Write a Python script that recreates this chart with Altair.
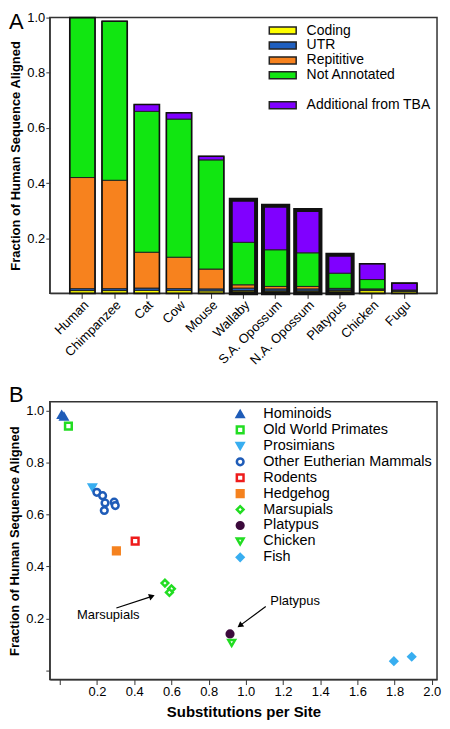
import altair as alt
import pandas as pd

FONT = "Liberation Sans"

# ---------------- Panel A data ----------------
species = ["Human", "Chimpanzee", "Cat", "Cow", "Mouse", "Wallaby",
           "S.A. Opossum", "N.A. Opossum", "Platypus", "Chicken", "Fugu"]
coding = [0.010, 0.010, 0.011, 0.010, 0.009, 0.010, 0.009, 0.009, 0.010, 0.010, 0.007]
utr = [0.007, 0.007, 0.008, 0.007, 0.007, 0.009, 0.007, 0.007, 0.006, 0.005, 0.004]
repetitive = [0.403, 0.393, 0.130, 0.114, 0.072, 0.012, 0.009, 0.009, 0.002, 0.001, 0.001]
not_annotated = [0.580, 0.577, 0.511, 0.501, 0.396, 0.154, 0.133, 0.122, 0.055, 0.034, 0.0]
additional_tba = [0.0, 0.0, 0.025, 0.023, 0.013, 0.154, 0.160, 0.155, 0.067, 0.057, 0.025]
thick_outline = ["Wallaby", "S.A. Opossum", "N.A. Opossum", "Platypus"]

seg_names = ["Coding", "UTR", "Repititive", "Not Annotated", "Additional from TBA"]
seg_values = [coding, utr, repetitive, not_annotated, additional_tba]

rows, tot_rows = [], []
for i, sp in enumerate(species):
    base = 0.0
    for name, vals in zip(seg_names, seg_values):
        v = vals[i]
        if v > 0:
            rows.append({"species": sp, "segment": name, "y0": base, "y1": base + v})
        base += v
    tot_rows.append({"species": sp, "total": base})
df_seg = pd.DataFrame(rows)
df_tot = pd.DataFrame(tot_rows)

# ---------------- Panel B data ----------------
groups = ["Hominoids", "Old World Primates", "Prosimians", "Other Eutherian Mammals",
          "Rodents", "Hedgehog", "Marsupials", "Platypus", "Chicken", "Fish"]
pt_group = ["Hominoids", "Hominoids", "Old World Primates", "Prosimians",
            "Other Eutherian Mammals", "Other Eutherian Mammals", "Other Eutherian Mammals",
            "Other Eutherian Mammals", "Other Eutherian Mammals", "Other Eutherian Mammals",
            "Rodents", "Hedgehog", "Marsupials", "Marsupials", "Marsupials",
            "Platypus", "Chicken", "Fish", "Fish"]
pt_x = [0.010, 0.022, 0.046, 0.175, 0.199, 0.230, 0.243, 0.239, 0.292, 0.298,
        0.405, 0.304, 0.565, 0.600, 0.589, 0.915, 0.924, 1.796, 1.892]
pt_y = [0.985, 0.978, 0.941, 0.705, 0.686, 0.673, 0.645, 0.616, 0.648, 0.635,
        0.498, 0.460, 0.336, 0.314, 0.300, 0.140, 0.105, 0.035, 0.052]

ann_text = ["Marsupials", "Platypus"]
ann_x = [0.26, 1.265]
ann_y = [0.214, 0.265]
arrow_x = [0.304, 1.107]
arrow_y = [0.240, 0.246]
head_x = [0.495, 0.968]
head_y = [0.285, 0.172]
head_angle = [341, 143]

df_pts = pd.DataFrame({"group": pt_group, "x": pt_x, "y": pt_y})
df_ann = pd.DataFrame({"text": ann_text, "x": ann_x, "y": ann_y})
df_arr = pd.DataFrame({"x": arrow_x, "y": arrow_y, "hx": head_x, "hy": head_y, "ang": head_angle})

W = 389

# ---------------- Panel A ----------------
color_domain = ["Coding", "UTR", "Repititive", "Not Annotated", " ", "Additional from TBA"]
fill_range = ["#ffff00", "#1f5fbf", "#f7821e", "#11e611", "transparent", "#8000ff"]
stroke_range = ["#222222", "#222222", "#222222", "#222222", "transparent", "#222222"]

legend_a = alt.Legend(title=None, orient="top-right", offset=6,
                      symbolType="M-3.86,-1H3.86V1H-3.86Z", symbolSize=49,
                      symbolStrokeWidth=1.5, symbolOpacity=1,
                      labelFont=FONT, labelFontSize=14, labelColor="black",
                      rowPadding=1, labelOffset=17, labelLimit=300)

xa_axis = alt.Axis(title=None, labelAngle=-45, labelAlign="right", labelBaseline="top",
                   labelFont=FONT, labelFontSize=13, labelColor="black",
                   tickSize=5, tickColor="#333", domainColor="#333", labelPadding=0)
ya_axis = alt.Axis(title="Fraction of Human Sequence Aligned", values=[0.2, 0.4, 0.6, 0.8, 1.0],
                   format=".1f", labelFont=FONT, labelFontSize=13, labelColor="black",
                   tickSize=4, tickColor="#333", domainColor="#333", labelPadding=1,
                   titleFont=FONT, titleFontSize=13, titleFontWeight="bold", titleColor="black",
                   titlePadding=4)
xa_scale = alt.Scale(paddingInner=0.215, paddingOuter=0.62)
ya_scale = alt.Scale(domain=[0, 1], nice=False)

bars = alt.Chart(df_seg).mark_bar(strokeWidth=1).encode(
    x=alt.X("species:N", sort=species, scale=xa_scale, axis=xa_axis),
    y=alt.Y("y0:Q", scale=ya_scale, axis=ya_axis),
    y2="y1:Q",
    color=alt.Color("segment:N", scale=alt.Scale(domain=color_domain, range=fill_range), legend=legend_a),
    stroke=alt.Stroke("segment:N", scale=alt.Scale(domain=color_domain, range=stroke_range), legend=legend_a),
)

outline = alt.Chart(df_tot).mark_bar(fillOpacity=0, stroke="#111111").encode(
    x=alt.X("species:N", sort=species, scale=xa_scale, axis=xa_axis),
    y=alt.Y("total:Q", scale=ya_scale, axis=ya_axis),
    strokeWidth=alt.condition(alt.FieldOneOfPredicate(field="species", oneOf=thick_outline),
                              alt.value(4), alt.value(1.6)),
)

letter_a = alt.Chart(pd.DataFrame({"t": ["A"]})).mark_text(
    font=FONT, fontSize=22, align="left", baseline="top", color="black"
).encode(text="t:N", x=alt.value(-41), y=alt.value(-6))

panel_a = alt.layer(bars, outline, letter_a).properties(width=W, height=277)

# ---------------- Panel B ----------------
shape_range = ["triangle-up", "square", "triangle-down", "circle", "square", "square",
               "diamond", "circle", "triangle-down", "diamond"]
stroke_b = ["#1f5cb8", "#22dd22", "#38aef0", "#1f5cb8", "#ee1c1c", "#f5821f",
            "#22dd22", "#3c0a3c", "#22dd22", "#38aef0"]
fill_b = ["#1f5cb8", "white", "#38aef0", "white", "white", "#f5821f",
          "white", "#3c0a3c", "white", "#38aef0"]

legend_b = alt.Legend(title=None, orient="top-right", offset=5,
                      labelFont=FONT, labelFontSize=14.5, labelColor="black",
                      symbolSize=45, symbolStrokeWidth=2.5, symbolOpacity=1,
                      rowPadding=-4, labelOffset=16, labelLimit=300)

xb_axis = alt.Axis(title="Substitutions per Site",
                   values=[0, 0.2, 0.4, 0.6, 0.8, 1.0, 1.2, 1.4, 1.6, 1.8, 2.0],
                   labelExpr="datum.value == 0 ? '' : format(datum.value, '.1f')",
                   labelOverlap=False, labelFlush=False,
                   labelFont=FONT, labelFontSize=13, labelColor="black",
                   tickSize=5, tickColor="#333", domainColor="#333", labelPadding=1,
                   titleFont=FONT, titleFontSize=15, titleFontWeight="bold",
                   titleColor="black", titlePadding=6)
yb_axis = alt.Axis(title="Fraction of Human Sequence Aligned",
                   values=[0, 0.2, 0.4, 0.6, 0.8, 1.0],
                   labelExpr="datum.value == 0 ? '' : format(datum.value, '.1f')",
                   labelOverlap=False,
                   labelFont=FONT, labelFontSize=13, labelColor="black",
                   tickSize=4, tickColor="#333", domainColor="#333", labelPadding=2,
                   titleFont=FONT, titleFontSize=13, titleFontWeight="bold",
                   titleColor="black", titlePadding=4)
xb_scale = alt.Scale(domain=[-0.054, 2.028], nice=False, zero=False)
yb_scale = alt.Scale(domain=[-0.036, 1.035], nice=False, zero=False)

points = alt.Chart(df_pts).mark_point(size=45, strokeWidth=2.5, opacity=1, fillOpacity=1).encode(
    x=alt.X("x:Q", scale=xb_scale, axis=xb_axis),
    y=alt.Y("y:Q", scale=yb_scale, axis=yb_axis),
    shape=alt.Shape("group:N", scale=alt.Scale(domain=groups, range=shape_range), legend=legend_b),
    stroke=alt.Stroke("group:N", scale=alt.Scale(domain=groups, range=stroke_b), legend=legend_b),
    fill=alt.Fill("group:N", scale=alt.Scale(domain=groups, range=fill_b), legend=legend_b),
)

arrows = alt.Chart(df_arr).mark_rule(color="black", strokeWidth=1.2).encode(
    x=alt.X("x:Q", scale=xb_scale, axis=xb_axis),
    y=alt.Y("y:Q", scale=yb_scale, axis=yb_axis),
    x2="hx:Q", y2="hy:Q")
heads = alt.Chart(df_arr).mark_point(shape="triangle-right", filled=True, color="black",
                                     size=45, opacity=1).encode(
    x=alt.X("hx:Q", scale=xb_scale, axis=xb_axis),
    y=alt.Y("hy:Q", scale=yb_scale, axis=yb_axis),
    angle=alt.Angle("ang:Q", scale=None))
ann = alt.Chart(df_ann).mark_text(font=FONT, fontSize=13, color="black").encode(
    x=alt.X("x:Q", scale=xb_scale, axis=xb_axis),
    y=alt.Y("y:Q", scale=yb_scale, axis=yb_axis),
    text="text:N")

letter_b = alt.Chart(pd.DataFrame({"t": ["B"]})).mark_text(
    font=FONT, fontSize=22, align="left", baseline="top", color="black"
).encode(text="t:N", x=alt.value(-41), y=alt.value(-17))

panel_b = alt.layer(points, arrows, heads, ann, letter_b).properties(width=W, height=279)

chart = alt.vconcat(panel_a, panel_b, spacing=15).resolve_scale(
    color="independent", stroke="independent", shape="independent", fill="independent"
).resolve_legend(color="independent", stroke="independent", shape="independent", fill="independent"
).configure_view(stroke="#333", strokeWidth=1.5).configure_axis(grid=False).properties(padding=0)

chart.save("out.html", embed_options={"renderer": "svg", "actions": False})
